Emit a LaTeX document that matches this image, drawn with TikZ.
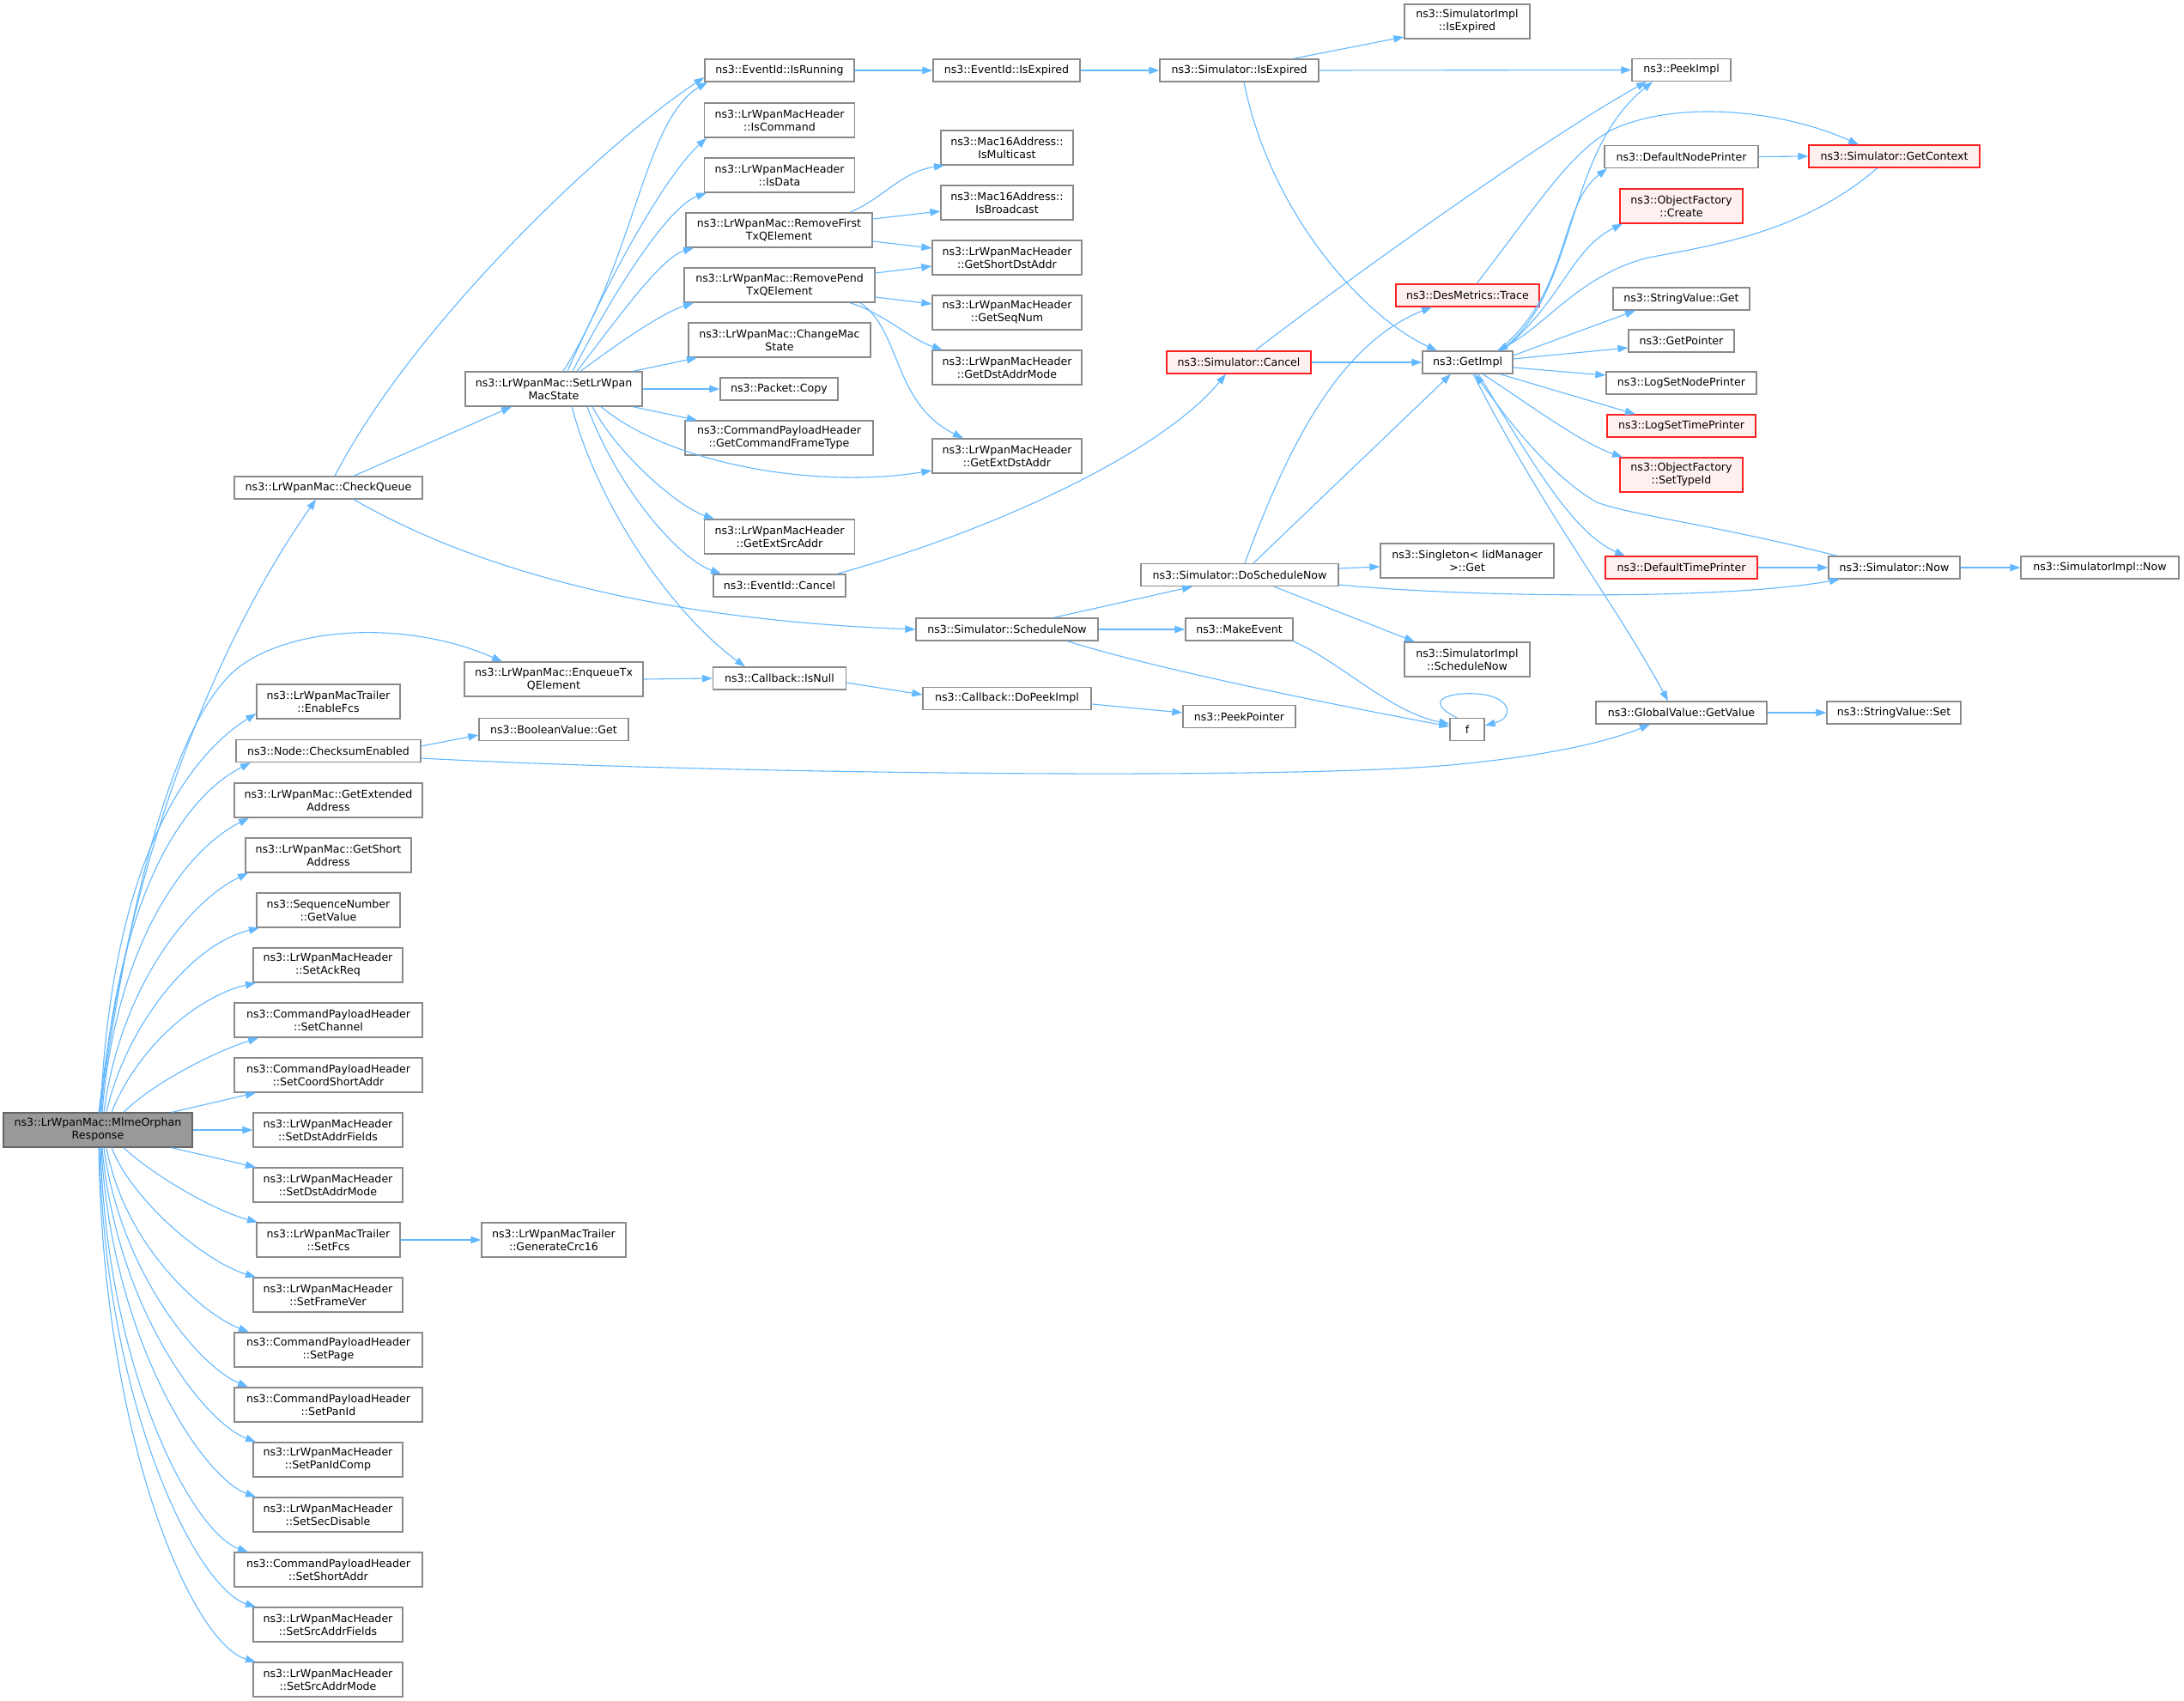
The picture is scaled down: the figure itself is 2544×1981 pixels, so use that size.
\documentclass[tikz,border=0pt]{standalone}
\usepackage{fontspec}
\setmainfont{DejaVu Sans}
\usetikzlibrary{arrows.meta,calc}
\definecolor{edgec}{HTML}{63B8FF}
\definecolor{boxc}{HTML}{8A8A8A}
\definecolor{redb}{HTML}{FF2020}
\definecolor{redf}{HTML}{FFF0F0}
\definecolor{rootf}{HTML}{999999}
\definecolor{rootb}{HTML}{666666}
\newcommand{\dvs}{\fontsize{12.6}{15}\selectfont}
\tikzset{
  box/.style={draw=boxc, line width=1.3pt, fill=white, inner sep=0pt, align=center, font=\dvs},
  redbox/.style={box, draw=redb, fill=redf},
  rootbox/.style={box, draw=rootb, fill=rootf},
  one/.style={minimum height=26pt},
  two/.style={minimum height=40pt},
  e/.style={draw=edgec, line width=1.1pt, -{Triangle[length=12pt,width=8.5pt]}}
}
\begin{document}
\begin{tikzpicture}[x=1pt,y=-1pt]
\useasboundingbox (0,0) rectangle (2544,1981);
\fill[white] (0,0) rectangle (2544,1981);
% ---- left column
\node[rootbox,two,minimum width=220pt] (root) at (114,1316) {ns3::LrWpanMac::MlmeOrphan\\Response};
\node[box,one,minimum width=219pt] (checkq) at (382.5,568) {ns3::LrWpanMac::CheckQueue};
\node[box,two,minimum width=208pt] (enq) at (645,791) {ns3::LrWpanMac::EnqueueTx\\QElement};
\node[box,two,minimum width=167pt] (enfcs) at (382.5,817) {ns3::LrWpanMacTrailer\\::EnableFcs};
\node[box,one,minimum width=215pt] (cks) at (382.5,874.5) {ns3::Node::ChecksumEnabled};
\node[box,one,minimum width=174pt] (bool) at (645,849.5) {ns3::BooleanValue::Get};
\node[box,two,minimum width=219pt] (gext) at (382.5,932) {ns3::LrWpanMac::GetExtended\\Address};
\node[box,two,minimum width=193pt] (gshort) at (382.5,996) {ns3::LrWpanMac::GetShort\\Address};
\node[box,two,minimum width=167pt] (gval) at (382.5,1060) {ns3::SequenceNumber\\::GetValue};
\node[box,two,minimum width=174pt] (sack) at (382,1124) {ns3::LrWpanMacHeader\\::SetAckReq};
\node[box,two,minimum width=219pt] (schan) at (382.5,1188) {ns3::CommandPayloadHeader\\::SetChannel};
\node[box,two,minimum width=219pt] (scoord) at (382.5,1252) {ns3::CommandPayloadHeader\\::SetCoordShortAddr};
\node[box,two,minimum width=174pt] (sdaf) at (382,1316) {ns3::LrWpanMacHeader\\::SetDstAddrFields};
\node[box,two,minimum width=174pt] (sdam) at (382,1380) {ns3::LrWpanMacHeader\\::SetDstAddrMode};
\node[box,two,minimum width=167pt] (sfcs) at (382.5,1444) {ns3::LrWpanMacTrailer\\::SetFcs};
\node[box,two,minimum width=168pt] (crc) at (645,1444) {ns3::LrWpanMacTrailer\\::GenerateCrc16};
\node[box,two,minimum width=174pt] (sfv) at (382,1508) {ns3::LrWpanMacHeader\\::SetFrameVer};
\node[box,two,minimum width=219pt] (spage) at (382.5,1572) {ns3::CommandPayloadHeader\\::SetPage};
\node[box,two,minimum width=219pt] (span) at (382.5,1636) {ns3::CommandPayloadHeader\\::SetPanId};
\node[box,two,minimum width=174pt] (spic) at (382,1700) {ns3::LrWpanMacHeader\\::SetPanIdComp};
\node[box,two,minimum width=174pt] (ssec) at (382,1764) {ns3::LrWpanMacHeader\\::SetSecDisable};
\node[box,two,minimum width=219pt] (ssa) at (382.5,1828) {ns3::CommandPayloadHeader\\::SetShortAddr};
\node[box,two,minimum width=174pt] (ssaf) at (382,1892) {ns3::LrWpanMacHeader\\::SetSrcAddrFields};
\node[box,two,minimum width=174pt] (ssam) at (382,1956) {ns3::LrWpanMacHeader\\::SetSrcAddrMode};
% ---- second column
\node[box,two,minimum width=206pt] (slws) at (645,453) {ns3::LrWpanMac::SetLrWpan\\MacState};
% ---- third column
\node[box,one,minimum width=174pt] (isrun) at (908,82) {ns3::EventId::IsRunning};
\node[box,two,minimum width=175pt] (iscmd) at (908,140) {ns3::LrWpanMacHeader\\::IsCommand};
\node[box,two,minimum width=175pt] (isdata) at (908,204) {ns3::LrWpanMacHeader\\::IsData};
\node[box,two,minimum width=217pt] (rmf) at (907.5,268) {ns3::LrWpanMac::RemoveFirst\\TxQElement};
\node[box,two,minimum width=222pt] (rmp) at (908,332) {ns3::LrWpanMac::RemovePend\\TxQElement};
\node[box,two,minimum width=212pt] (chg) at (908,396) {ns3::LrWpanMac::ChangeMac\\State};
\node[box,one,minimum width=137pt] (copy) at (907.5,453) {ns3::Packet::Copy};
\node[box,two,minimum width=219pt] (gcft) at (907.5,510) {ns3::CommandPayloadHeader\\::GetCommandFrameType};
\node[box,two,minimum width=175pt] (gesa) at (908,625) {ns3::LrWpanMacHeader\\::GetExtSrcAddr};
\node[box,one,minimum width=154pt] (evc) at (908,682) {ns3::EventId::Cancel};
\node[box,one,minimum width=155pt] (isnull) at (908,790) {ns3::Callback::IsNull};
% ---- fourth column
\node[box,one,minimum width=171pt] (evexp) at (1172.5,82) {ns3::EventId::IsExpired};
\node[box,two,minimum width=154pt] (mcast) at (1173,172) {ns3::Mac16Address::\\IsMulticast};
\node[box,two,minimum width=154pt] (bcast) at (1173,236) {ns3::Mac16Address::\\IsBroadcast};
\node[box,two,minimum width=174pt] (gsda) at (1173,300) {ns3::LrWpanMacHeader\\::GetShortDstAddr};
\node[box,two,minimum width=174pt] (gseq) at (1173,364) {ns3::LrWpanMacHeader\\::GetSeqNum};
\node[box,two,minimum width=174pt] (gdam) at (1173,428) {ns3::LrWpanMacHeader\\::GetDstAddrMode};
\node[box,two,minimum width=174pt] (geda) at (1173,531) {ns3::LrWpanMacHeader\\::GetExtDstAddr};
\node[box,one,minimum width=212pt] (schn) at (1173,733) {ns3::Simulator::ScheduleNow};
\node[box,one,minimum width=196pt] (dpi) at (1173,813.5) {ns3::Callback::DoPeekImpl};
% ---- fifth column
\node[box,one,minimum width=185pt] (simexp) at (1443.5,82) {ns3::Simulator::IsExpired};
\node[redbox,one,minimum width=168pt] (scancel) at (1443,422) {ns3::Simulator::Cancel};
\node[box,one,minimum width=230pt] (dsn) at (1444,669.5) {ns3::Simulator::DoScheduleNow};
\node[box,one,minimum width=125pt] (mkev) at (1443.5,733) {ns3::MakeEvent};
\node[box,one,minimum width=131pt] (ppt) at (1443.5,834.5) {ns3::PeekPointer};
% ---- sixth column
\node[box,two,minimum width=146pt] (siexp) at (1709,25) {ns3::SimulatorImpl\\::IsExpired};
\node[redbox,one,minimum width=167pt] (des) at (1709.5,344) {ns3::DesMetrics::Trace};
\node[box,one,minimum width=105pt] (getimpl) at (1709.5,422) {ns3::GetImpl};
\node[box,two,minimum width=202pt] (single) at (1709,653) {ns3::Singleton< IidManager\\>::Get};
\node[box,two,minimum width=146pt] (sisn) at (1709,768) {ns3::SimulatorImpl\\::ScheduleNow};
\node[box,one,minimum width=40pt] (f) at (1709,849.5) {f};
% ---- seventh column
\node[box,one,minimum width=115pt] (peek) at (1958.5,81.5) {ns3::PeekImpl};
\node[box,one,minimum width=179pt] (dnp) at (1958.5,182.5) {ns3::DefaultNodePrinter};
\node[redbox,two,minimum width=143pt] (ofc) at (1958.5,240) {ns3::ObjectFactory\\::Create};
\node[box,one,minimum width=159pt] (svg) at (1958.5,348) {ns3::StringValue::Get};
\node[box,one,minimum width=123pt] (gptr) at (1958.5,397) {ns3::GetPointer};
\node[box,one,minimum width=175pt] (lsnp) at (1958.5,446) {ns3::LogSetNodePrinter};
\node[redbox,one,minimum width=173pt] (lstp) at (1958.5,496) {ns3::LogSetTimePrinter};
\node[redbox,two,minimum width=143pt] (ofst) at (1958.5,553) {ns3::ObjectFactory\\::SetTypeId};
\node[redbox,one,minimum width=177pt] (dtp) at (1958.5,661) {ns3::DefaultTimePrinter};
\node[box,one,minimum width=199pt] (gv) at (1958.5,830) {ns3::GlobalValue::GetValue};
% ---- eighth / ninth column
\node[redbox,one,minimum width=199pt] (ctx) at (2206.5,182) {ns3::Simulator::GetContext};
\node[box,one,minimum width=153pt] (now) at (2206.5,661) {ns3::Simulator::Now};
\node[box,one,minimum width=156pt] (svs) at (2206,830) {ns3::StringValue::Set};
\node[box,one,minimum width=184pt] (sinow) at (2446,661) {ns3::SimulatorImpl::Now};

% ===== edges from root (upwards)
\draw[e] ([xshift=86pt]root.north) -- (298,0 |- scoord.south);
\draw[e] ([xshift=30pt]root.north) .. controls (180,1260) and (250,1225) .. (301,0 |- schan.south);
\draw[e] ([xshift=16pt]root.north) .. controls (160,1220) and (230,1160) .. (298,0 |- sack.south);
\draw[e] ([xshift=10pt]root.north) .. controls (145,1200) and (220,1100) .. (302,0 |- gval.south);
\draw[e] ([xshift=7pt]root.north) .. controls (140,1150) and (220,1050) .. (289,0 |- gshort.south);
\draw[e] ([xshift=5pt]root.north) .. controls (135,1100) and (215,990) .. (290,0 |- gext.south);
\draw[e] ([xshift=4pt]root.north) .. controls (135,1050) and (210,930) .. (292,0 |- cks.south);
\draw[e] ([xshift=3pt]root.north) .. controls (130,1000) and (220,880) .. (enfcs.west |- 0,831);
\draw[e] ([xshift=2pt]root.north) .. controls (150,1050) and (200,850) .. (271,783) .. controls (330,730) and (470,720) .. (585,0 |- enq.north);
\draw[e] ([xshift=1pt]root.north) .. controls (150,1000) and (250,750) .. (368,0 |- checkq.south);
% ===== edges from root (downwards)
\draw[e] (root.east) -- (sdaf.west);
\draw[e] ([xshift=86pt]root.south) -- (298,0 |- sdam.north);
\draw[e] ([xshift=30pt]root.south) .. controls (180,1370) and (250,1410) .. (300,0 |- sfcs.north);
\draw[e] ([xshift=16pt]root.south) .. controls (155,1400) and (240,1470) .. (298,0 |- sfv.north);
\draw[e] ([xshift=10pt]root.south) .. controls (145,1450) and (235,1530) .. (290,0 |- spage.north);
\draw[e] ([xshift=7pt]root.south) .. controls (140,1480) and (230,1590) .. (289,0 |- span.north);
\draw[e] ([xshift=5pt]root.south) .. controls (135,1520) and (235,1655) .. (298,0 |- spic.north);
\draw[e] ([xshift=4pt]root.south) .. controls (130,1560) and (235,1720) .. (298,0 |- ssec.north);
\draw[e] ([xshift=3pt]root.south) .. controls (125,1600) and (225,1785) .. (289,0 |- ssa.north);
\draw[e] ([xshift=2pt]root.south) .. controls (122,1640) and (230,1850) .. (298,0 |- ssaf.north);
\draw[e] ([xshift=1pt]root.south) .. controls (120,1680) and (225,1915) .. (298,0 |- ssam.north);

% ===== CheckQueue
\draw[e] (390,0 |- checkq.north) .. controls (480,380) and (700,170) .. (isrun.west |- 0,90);
\draw[e] (412,0 |- checkq.north) -- (596,0 |- slws.south);
\draw[e] (412,0 |- checkq.south) .. controls (600,690) and (850,725) .. (schn.west);

% ===== SetLrWpanMacState
\draw[e] (656,0 |- slws.north) .. controls (740,300) and (750,140) .. (824,0 |- isrun.south);
\draw[e] (661,0 |- slws.north) .. controls (720,300) and (780,200) .. (823,0 |- iscmd.south);
\draw[e] (667,0 |- slws.north) .. controls (720,330) and (780,240) .. (823,0 |- isdata.south);
\draw[e] (672,0 |- slws.north) .. controls (720,370) and (770,300) .. (808,0 |- rmf.south);
\draw[e] (676,0 |- slws.north) .. controls (720,400) and (770,365) .. (808,0 |- rmp.south);
\draw[e] (737,0 |- slws.north) -- (812,0 |- chg.south);
\draw[e] (slws.east) -- (copy.west);
\draw[e] (737,0 |- slws.south) -- (812,0 |- gcft.north);
\draw[e] (700,0 |- slws.south) .. controls (780,540) and (950,570) .. (geda.west |- 0,548);
\draw[e] (690,0 |- slws.south) .. controls (720,530) and (790,590) .. (832,0 |- gesa.north);
\draw[e] (684,0 |- slws.south) .. controls (720,570) and (790,650) .. (840,0 |- evc.north);
\draw[e] (666,0 |- slws.south) .. controls (700,600) and (790,720) .. (868,0 |- isnull.north);

% ===== RemoveFirst / RemovePend
\draw[e] (990,0 |- rmf.north) .. controls (1030,230) and (1050,200) .. (1100,0 |- mcast.south);
\draw[e] (rmf.east |- 0,255) -- (bcast.west |- 0,246);
\draw[e] (rmf.east |- 0,281) -- (gsda.west |- 0,289);
\draw[e] (rmp.east |- 0,318) -- (gsda.west |- 0,310);
\draw[e] (rmp.east |- 0,346) -- (gseq.west |- 0,354);
\draw[e] (990,0 |- rmp.south) .. controls (1030,365) and (1060,395) .. (1098,0 |- gdam.north);
\draw[e] (1002,0 |- rmp.south) .. controls (1050,385) and (1040,470) .. (1122,0 |- geda.north);

% ===== IsRunning chain
\draw[e] (isrun.east) -- (evexp.west);
\draw[e] (evexp.east) -- (simexp.west);
\draw[e] (1506,0 |- simexp.north) -- (siexp.west |- 0,43);
\draw[e] (simexp.east) -- (peek.west);
\draw[e] (1449,0 |- simexp.south) .. controls (1480,250) and (1590,370) .. (1674,0 |- getimpl.north);

% ===== Cancel
\draw[e] (975,0 |- evc.north) .. controls (1150,620) and (1350,530) .. (1428,0 |- scancel.south);
\draw[e] (1462,0 |- scancel.north) .. controls (1550,340) and (1800,160) .. (1918,0 |- peek.south);
\draw[e] (scancel.east) -- (getimpl.west);

% ===== DesMetrics
\draw[e] (1720,0 |- des.north) .. controls (1790,240) and (1830,175) .. (1880,150) .. controls (1960,115) and (2080,130) .. (2165,0 |- ctx.north);

% ===== ScheduleNow / DoScheduleNow
\draw[e] (1227,0 |- schn.north) -- (1389,0 |- dsn.south);
\draw[e] (schn.east) -- (mkev.west);
\draw[e] (1243,0 |- schn.south) .. controls (1350,780) and (1550,820) .. (f.west |- 0,846);
\draw[e] (1506,0 |- mkev.south) .. controls (1560,770) and (1620,830) .. (f.west |- 0,843);
\draw[e] (1697,0 |- f.north) .. controls (1655,815) and (1690,806) .. (1720,808) .. controls (1762,811) and (1764,836) .. (f.east |- 0,845);
\draw[e] (1450,0 |- dsn.north) .. controls (1500,520) and (1560,400) .. (1668,0 |- des.south);
\draw[e] (1460,0 |- dsn.north) -- (1690,0 |- getimpl.south);
\draw[e] (dsn.east |- 0,662) -- (single.west |- 0,660);
\draw[e] (dsn.east |- 0,681) .. controls (1700,695) and (2000,700) .. (2143,0 |- now.south);
\draw[e] (1484,0 |- dsn.south) -- (1648,0 |- sisn.north);

% ===== Enqueue / Callback
\draw[e] (enq.east) -- (isnull.west);
\draw[e] (isnull.east |- 0,795) -- (dpi.west |- 0,809);
\draw[e] (dpi.east |- 0,820) -- (ppt.west |- 0,830);

% ===== ChecksumEnabled
\draw[e] (cks.east |- 0,869) -- (bool.west |- 0,856);
\draw[e] (cks.east |- 0,883) .. controls (800,900) and (1500,910) .. (1700,890) .. controls (1800,880) and (1870,865) .. (1922,0 |- gv.south);
\draw[e] (gv.east) -- (svs.west);
\draw[e] (sfcs.east) -- (crc.west);

% ===== GetImpl
\draw[e] (1748,0 |- getimpl.north) .. controls (1840,340) and (1820,180) .. (1925,0 |- peek.south);
\draw[e] (1745,0 |- getimpl.north) .. controls (1830,340) and (1815,240) .. (1872,0 |- dnp.south);
\draw[e] (1750,0 |- getimpl.north) .. controls (1820,350) and (1830,290) .. (1890,0 |- ofc.south);
\draw[e] (getimpl.east |- 0,414) -- (1905,0 |- svg.south);
\draw[e] (getimpl.east |- 0,418) -- (gptr.west |- 0,405);
\draw[e] (getimpl.east |- 0,428) -- (lsnp.west |- 0,437);
\draw[e] (1747,0 |- getimpl.south) -- (1905,0 |- lstp.north);
\draw[e] (1727,0 |- getimpl.south) .. controls (1780,470) and (1840,515) .. (1890,0 |- ofst.north);
\draw[e] (1722,0 |- getimpl.south) .. controls (1780,530) and (1830,620) .. (1893,0 |- dtp.north);
\draw[e] (1716,0 |- getimpl.south) .. controls (1800,600) and (1880,700) .. (1943,0 |- gv.north);
\draw[e] (2140,0 |- now.north) .. controls (2000,612) and (1900,600) .. (1860,585) .. controls (1800,550) and (1750,480) .. (1718,0 |- getimpl.south);
\draw[e] (dtp.east) -- (now.west);
\draw[e] (now.east) -- (sinow.west);
\draw[e] (dnp.east) -- (ctx.west);
\draw[e] (2187,0 |- ctx.south) .. controls (2100,270) and (2000,285) .. (1920,300) .. controls (1840,320) and (1800,380) .. (1744,0 |- getimpl.north);
\end{tikzpicture}
\end{document}
